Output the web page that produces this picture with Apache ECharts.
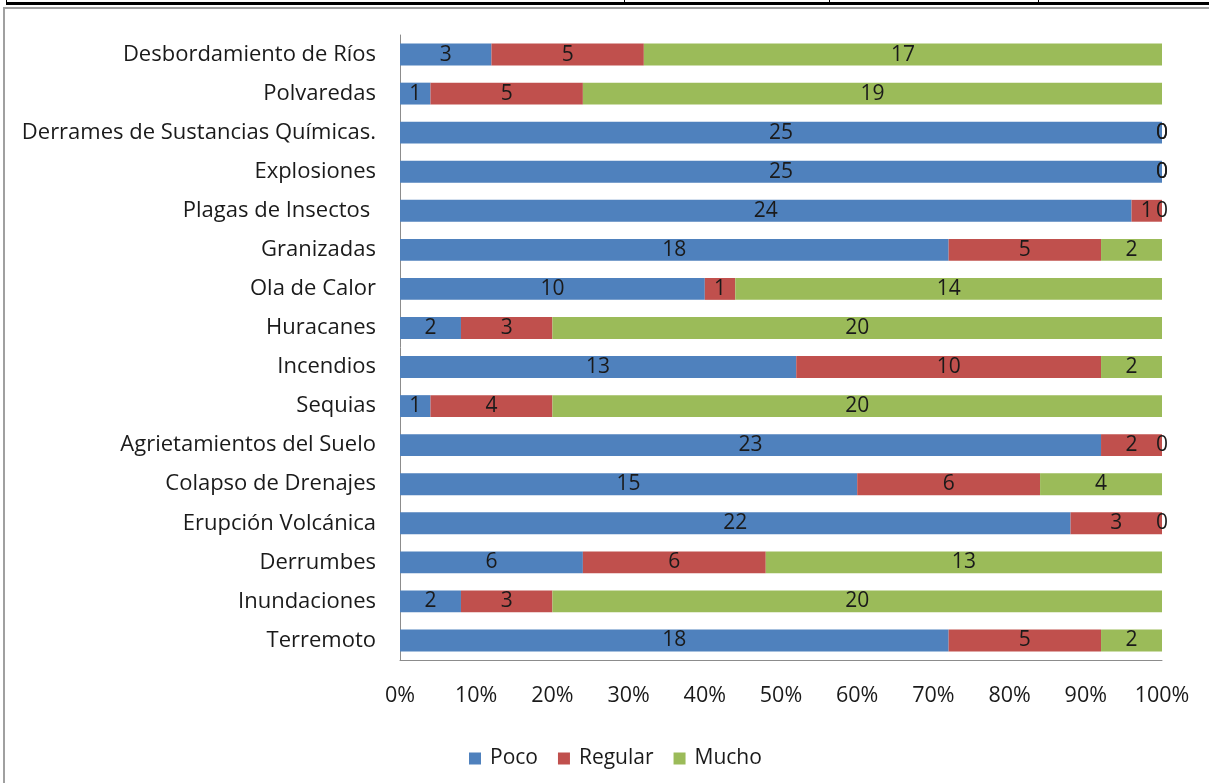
<!DOCTYPE html>
<html>
<head>
<meta charset="utf-8">
<script src="https://cdn.jsdelivr.net/npm/echarts@6/dist/echarts.min.js"></script>
<style>
  html, body { margin: 0; padding: 0; background: #fff; }
  #chart { width: 1209px; height: 783px; }
</style>
</head>
<body>
<div id="chart"></div>
<script>
// Hazards, listed top to bottom
const categories = [
  'Desbordamiento de Ríos', 'Polvaredas', 'Derrames de Sustancias Químicas.',
  'Explosiones', 'Plagas de Insectos ', 'Granizadas', 'Ola de Calor',
  'Huracanes', 'Incendios', 'Sequias', 'Agrietamientos del Suelo',
  'Colapso de Drenajes', 'Erupción Volcánica', 'Derrumbes', 'Inundaciones',
  'Terremoto'
];
const poco    = [3, 1, 25, 25, 24, 18, 10, 2, 13, 1, 23, 15, 22, 6, 2, 18];
const regular = [5, 5, 0, 0, 1, 5, 1, 3, 10, 4, 2, 6, 3, 6, 3, 5];
const mucho   = [17, 19, 0, 0, 0, 2, 14, 20, 2, 20, 0, 4, 0, 13, 20, 2];
const seriesNames = ['Poco', 'Regular', 'Mucho'];
const colors = ['#4F81BD', '#C0504D', '#9BBB59'];

const FONT = 'Open Sans';
const TEXT = '#1a1a1a';
const totals = categories.map((_, i) => poco[i] + regular[i] + mucho[i]);

// each segment is drawn as its share of the row; the label keeps the count
function toShare(arr) {
  return arr.map((v, i) => ({ value: v / totals[i] * 100, count: v }));
}

const chart = echarts.init(document.getElementById('chart'), null, { renderer: 'canvas' });

chart.setOption({
  animation: false,
  backgroundColor: '#fff',
  textStyle: { fontFamily: FONT },
  grid: { left: 400, right: 47, top: 35, bottom: 123, containLabel: false },
  xAxis: {
    type: 'value', min: 0, max: 100, interval: 10,
    axisLine: { show: true, lineStyle: { color: '#8c8c8c', width: 1 } },
    axisTick: { show: false },
    splitLine: { show: false },
    axisLabel: { formatter: '{value}%', color: TEXT, fontSize: 21.5, fontFamily: FONT, margin: 25 }
  },
  yAxis: {
    type: 'category', data: categories, inverse: true,
    axisLine: { show: true, lineStyle: { color: '#8c8c8c', width: 1 } },
    axisTick: { show: false },
    axisLabel: { color: TEXT, fontSize: 22, fontFamily: FONT, margin: 24 }
  },
  legend: {
    data: seriesNames, top: 743, left: 464,
    itemWidth: 12, itemHeight: 12, itemGap: 20,
    icon: 'rect',
    textStyle: { color: TEXT, fontSize: 21, fontFamily: FONT, padding: [0, 0, 0, 4] }
  },
  series: [poco, regular, mucho].map((arr, k) => ({
    name: seriesNames[k], type: 'bar', stack: 'total',
    barCategoryGap: '44%',
    itemStyle: { color: colors[k] },
    label: {
      show: true, position: 'inside', color: TEXT, fontSize: 21, fontFamily: FONT,
      formatter: p => String(p.data.count)
    },
    data: toShare(arr)
  })),
  graphic: [
    // page rule above the chart box
    { type: 'rect', shape: { x: 6, y: 2, width: 1203, height: 3 }, style: { fill: '#000' }, silent: true },
    { type: 'rect', shape: { x: 6, y: 0, width: 1, height: 5 }, style: { fill: '#000' }, silent: true },
    { type: 'rect', shape: { x: 624, y: 0, width: 1, height: 3 }, style: { fill: '#000' }, silent: true },
    { type: 'rect', shape: { x: 829, y: 0, width: 1, height: 3 }, style: { fill: '#000' }, silent: true },
    { type: 'rect', shape: { x: 1038, y: 0, width: 1, height: 3 }, style: { fill: '#000' }, silent: true },
    // chart box outline
    { type: 'rect', shape: { x: 3, y: 7, width: 1206, height: 2 }, style: { fill: '#a0a0a0' }, silent: true },
    { type: 'rect', shape: { x: 3, y: 7, width: 2, height: 776 }, style: { fill: '#a0a0a0' }, silent: true }
  ]
});
</script>
</body>
</html>
